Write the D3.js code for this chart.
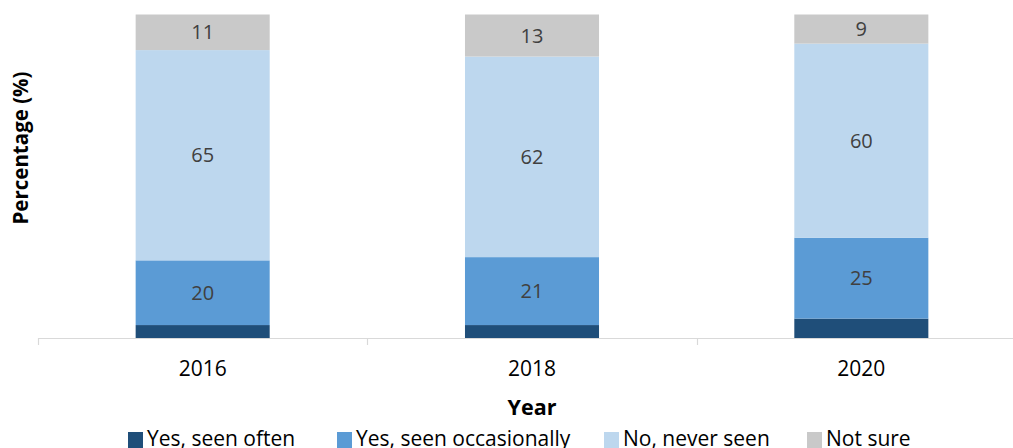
<!DOCTYPE html>
<html>
<head>
<meta charset="utf-8">
<script src="https://cdn.jsdelivr.net/npm/d3@7"></script>
<style>
  html, body { margin: 0; padding: 0; background: #fff; }
  svg { display: block; font-family: "Open Sans", Lato, sans-serif; }
</style>
</head>
<body>
<svg id="chart" width="1013" height="448"></svg>
<script>
// Survey answers by year, in percent
const years = ["2016", "2018", "2020"];
const seriesNames = ["Yes, seen often", "Yes, seen occasionally", "No, never seen", "Not sure"];
const seenOften = [4, 4, 6];
const seenOccasionally = [20, 21, 25];
const neverSeen = [65, 62, 60];
const notSure = [11, 13, 9];
const seriesColors = ["#1F4E79", "#5B9BD5", "#BDD7EE", "#C9C9C9"];
// which series carry a value label inside the segment
const labelled = [false, true, true, true];

const rows = years.map((y, i) => ({
  year: y,
  "Yes, seen often": seenOften[i],
  "Yes, seen occasionally": seenOccasionally[i],
  "No, never seen": neverSeen[i],
  "Not sure": notSure[i]
}));

const svg = d3.select("#chart");
const plot = { left: 38, right: 1026, top: 14.5, bottom: 338 };

const x = d3.scaleBand().domain(years).range([plot.left, plot.right])
  .paddingInner(0.593).paddingOuter(0.2965);
const yScale = d3.scaleLinear().domain([0, 100]).range([plot.bottom, plot.top]);
const color = d3.scaleOrdinal().domain(seriesNames).range(seriesColors);

const stacked = d3.stack().keys(seriesNames)(rows);

const layers = svg.append("g").selectAll("g")
  .data(stacked).join("g")
  .attr("fill", d => color(d.key));

layers.selectAll("rect")
  .data(d => d).join("rect")
  .attr("x", d => x(d.data.year))
  .attr("width", x.bandwidth())
  .attr("y", d => yScale(d[1]))
  .attr("height", d => yScale(d[0]) - yScale(d[1]));

layers.filter((d, i) => labelled[i]).selectAll("text")
  .data(d => d.map(v => ({ v, key: d.key }))).join("text")
  .attr("x", d => x(d.v.data.year) + x.bandwidth() / 2)
  .attr("y", d => (yScale(d.v[0]) + yScale(d.v[1])) / 2)
  .attr("dy", "0.36em")
  .attr("text-anchor", "middle")
  .attr("fill", "#404040")
  .attr("font-size", 20)
  .text(d => d.v.data[d.key]);

// category axis with ticks on band boundaries
const axisG = svg.append("g");
axisG.append("line")
  .attr("x1", plot.left).attr("x2", plot.right)
  .attr("y1", plot.bottom + 0.5).attr("y2", plot.bottom + 0.5)
  .attr("stroke", "#D9D9D9").attr("stroke-width", 1.2);
const boundaries = years.map(y => x(y) - x.step() * x.paddingInner() / 2 );
boundaries[0] = plot.left;
axisG.selectAll("line.tick")
  .data(boundaries).join("line")
  .attr("class", "tick")
  .attr("x1", d => Math.round(d) + 0.5).attr("x2", d => Math.round(d) + 0.5)
  .attr("y1", plot.bottom).attr("y2", plot.bottom + 7)
  .attr("stroke", "#D9D9D9").attr("stroke-width", 1.2);
axisG.selectAll("text")
  .data(years).join("text")
  .attr("x", d => x(d) + x.bandwidth() / 2)
  .attr("y", 376)
  .attr("text-anchor", "middle")
  .attr("fill", "#000")
  .attr("font-size", 21)
  .text(d => d);

// axis titles
svg.append("text")
  .attr("x", (plot.left + plot.right) / 2).attr("y", 415)
  .attr("text-anchor", "middle")
  .attr("font-weight", "bold").attr("font-size", 21.5)
  .attr("fill", "#000")
  .text("Year");

svg.append("text")
  .attr("transform", "translate(28,148) rotate(-90)")
  .attr("text-anchor", "middle")
  .attr("font-weight", "bold").attr("font-size", 20.5)
  .attr("fill", "#000")
  .text("Percentage (%)");

// legend along the bottom edge
const legendX = [128, 337, 604, 807];
const legend = svg.append("g").selectAll("g")
  .data(seriesNames).join("g")
  .attr("transform", (d, i) => `translate(${legendX[i]},432)`);
legend.append("rect")
  .attr("width", 15).attr("height", 16)
  .attr("fill", d => color(d));
legend.append("text")
  .attr("x", 19).attr("y", 14)
  .attr("font-size", 21)
  .attr("fill", "#000")
  .text(d => d);
</script>
</body>
</html>
